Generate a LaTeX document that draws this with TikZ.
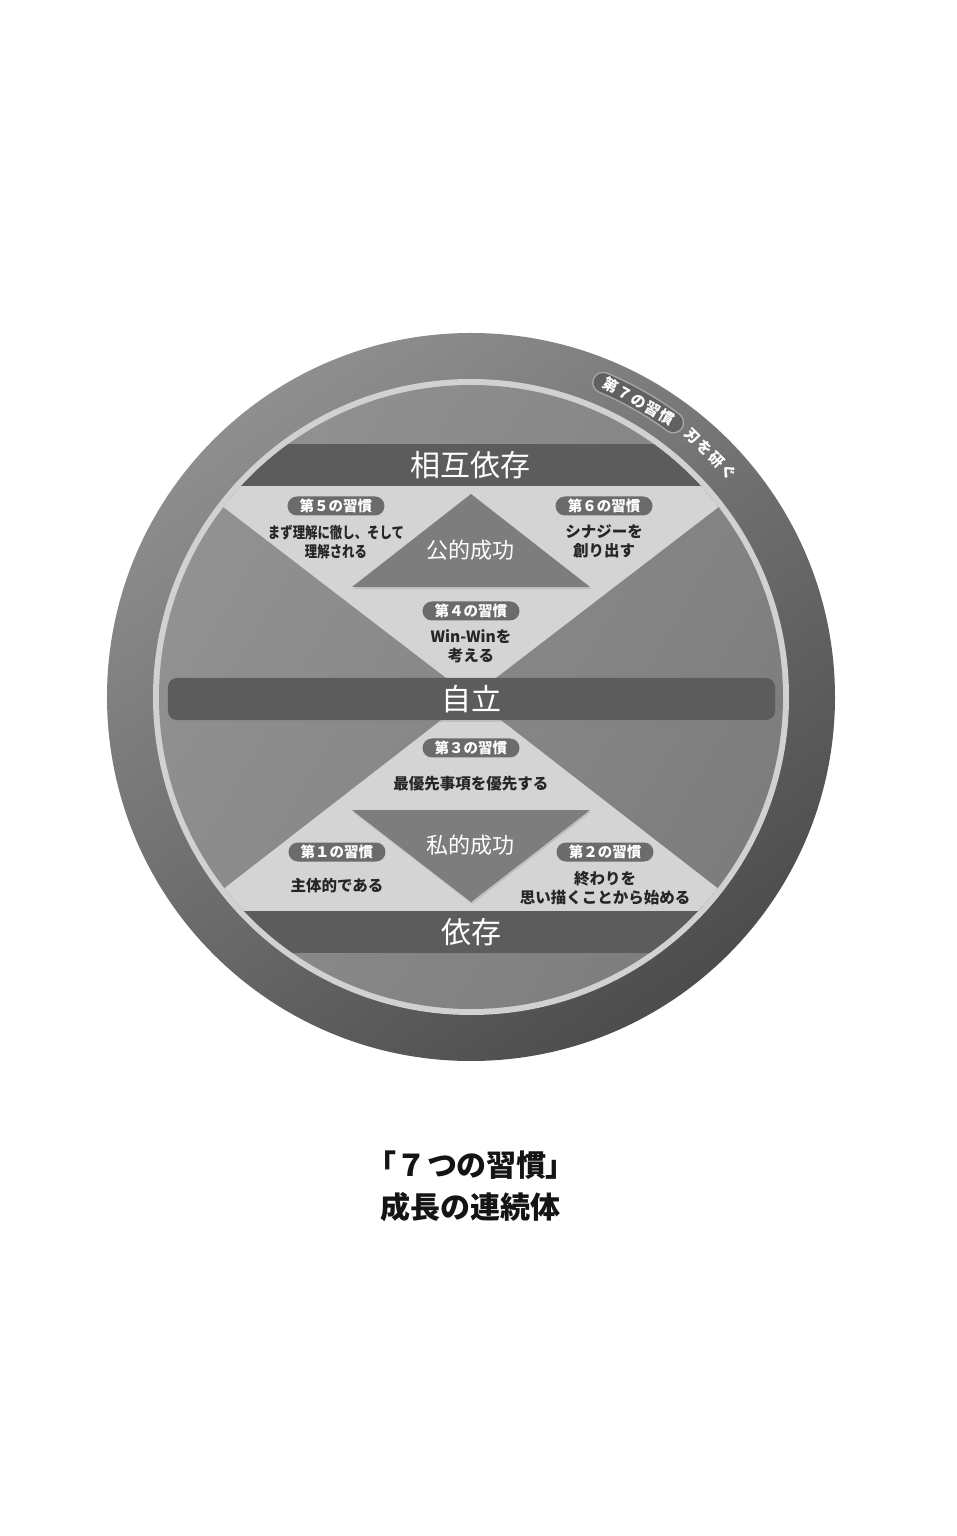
\documentclass[tikz,border=0pt]{standalone}
\usepackage{fontspec}
\setmainfont{Noto Sans CJK JP}
\newfontfamily\jpp{Noto Sans CJK JP}[RawFeature=+palt]
\usetikzlibrary{positioning,shadows}

\begin{document}
\begin{tikzpicture}[x=1pt,y=1pt,
  big/.style={text=white,inner sep=0pt,font=\fontsize{30}{30}\selectfont},
  mid/.style={text=white,inner sep=0pt,font=\fontsize{22}{22}\selectfont},
  tri/.style={fill=black!51,drop shadow={opacity=0.25,shadow xshift=1pt,shadow yshift=-2pt}},
  pill/.style={fill=black!58,text=white,rounded corners=9.5pt,minimum width=97pt,
    minimum height=19pt,inner sep=0pt,font=\bfseries\fontsize{14.5}{15}\selectfont},
  hab/.style={text=black!85,align=center,inner sep=0pt,font=\bfseries\fontsize{15.5}{19}\selectfont},
  arc/.style={text=white,inner sep=0pt,font=\bfseries\fontsize{15}{15}\selectfont},
  ttl/.style={text=black!92,inner sep=0pt,font=\bfseries\fontsize{30}{30}\selectfont}]
\fill[white] (-471,-839) rectangle (485,697);
\useasboundingbox (-471,-839) rectangle (485,697);

% ring and disk
\shade[left color=black!44,right color=black!70,shading angle=35] (0,0) circle[radius=364];
\fill[black!18] (0,0) circle[radius=318];
\shade[left color=black!43,right color=black!51,shading angle=60] (0,0) circle[radius=312];
\begin{scope}
  \clip (0,0) circle[radius=312];
  \fill[black!17] (0,0) -- (-275,211) -- (275,211) -- cycle;
  \fill[black!17] (0,0) -- (-276,-214) -- (276,-214) -- cycle;
  \fill[black!64] (-320,211) rectangle (320,253);
  \fill[black!64] (-320,-214) rectangle (320,-256);
\end{scope}
\fill[black!64,rounded corners=9pt,drop shadow={opacity=0.25,shadow xshift=1pt,shadow yshift=-2pt}]
  (-303,-23) rectangle (304,19);
\fill[tri] (0,203) -- (119,110) -- (-119,110) -- cycle;
\fill[tri] (-119,-113) -- (119,-113) -- (0,-205) -- cycle;

\node[big] (sg) at (0,232) {相互依存};
\node[big] (jr) at (0,-2) {自立};
\node[big] (iz) at (0,-235) {依存};
\node[mid] (ko) at (0,147) {公的成功};
\node[mid] (sh) at (0,-148) {私的成功};

\node[pill] (p5) at (-135,191) {第５の習慣};
\node[pill] (p6) at (133,191) {第６の習慣};
\node[pill] (p4) at (0,86) {第４の習慣};
\node[pill] (p3) at (0,-51) {第３の習慣};
\node[pill] (p1) at (-134,-155) {第１の習慣};
\node[pill] (p2) at (134,-155) {第２の習慣};
\node[hab,below=9pt of p5] (h5) {\scalebox{0.8}[1]{まず理解に徹し、そして}\\\scalebox{0.8}[1]{理解される}};
\node[hab,below=9pt of p6] (h6) {シナジーを\\創り出す};
\node[hab,below=9pt of p4] (h4) {Win-Winを\\考える};
\node[hab,below=18pt of p3] (h3) {最優先事項を優先する};
\node[hab,below=16pt of p1] (h1) {主体的である};
\node[hab,below=9pt of p2] (h2) {終わりを\\思い描くことから始める};

% habit 7 on the ring
\draw[black!35,line width=22pt,line cap=round] (67.2:341) arc[start angle=67.2,end angle=53.6,radius=341];
\draw[black!62,line width=19pt,line cap=round] (67.2:341) arc[start angle=67.2,end angle=53.6,radius=341];
\node[arc,rotate=-29.6] (s7) at (60.4:340) {第\kern1pt７\kern1pt の\kern1pt 習\kern1pt 慣};
\node[arc,rotate=-44.6] (k7) at (45.4:341) {刃\kern2pt を\kern2pt 研\kern2pt ぐ};

\node[ttl,font=\jpp\bfseries\fontsize{30}{30}\selectfont] (t1) at (0,-468) {「\kern5pt ７\kern5pt つの習慣」};
\node[ttl] (t2) at (0,-510) {成長の連続体};
\end{tikzpicture}
\end{document}
